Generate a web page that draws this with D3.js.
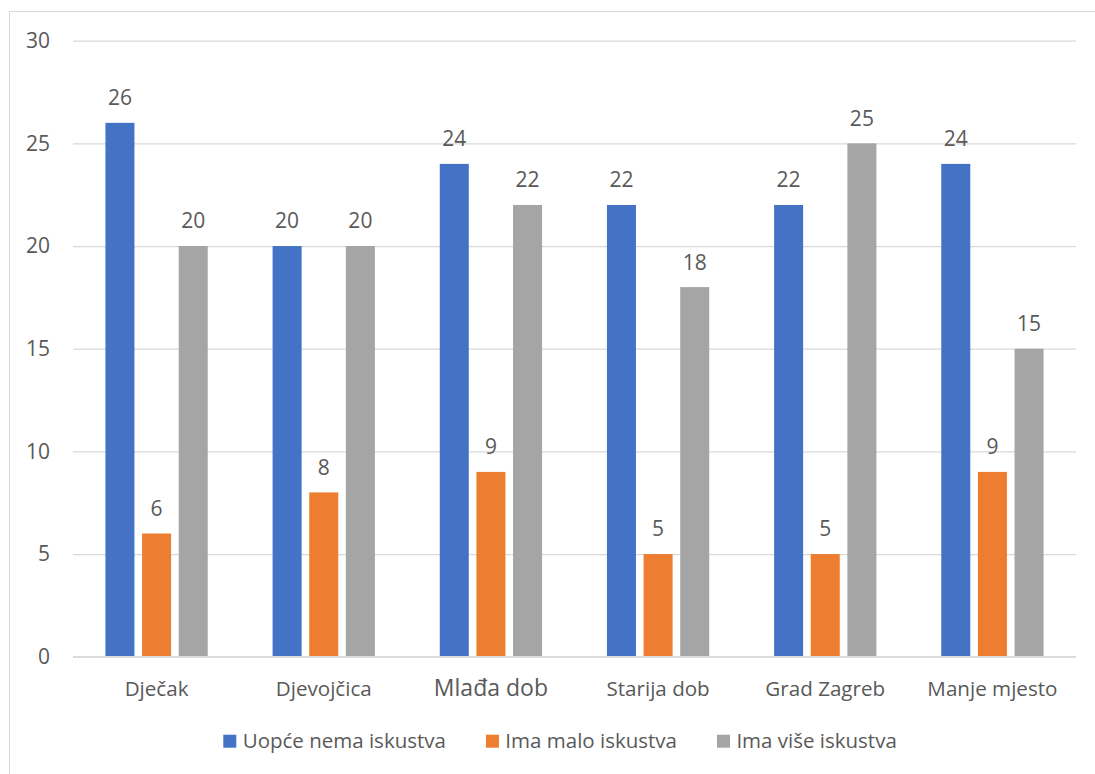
<!DOCTYPE html>
<html>
<head>
<meta charset="utf-8">
<script src="https://cdn.jsdelivr.net/npm/d3@7"></script>
<style>
  html, body { margin: 0; padding: 0; background: #fff; }
  svg { display: block; }
  text { font-family: "Segoe UI", "Open Sans", "Noto Sans", sans-serif; fill: #595959; }
</style>
</head>
<body>
<svg id="chart" width="1095" height="774"></svg>
<script>
const categories = ["Dječak", "Djevojčica", "Mlađa dob", "Starija dob", "Grad Zagreb", "Manje mjesto"];
const seriesNames = ["Uopće nema iskustva", "Ima malo iskustva", "Ima više iskustva"];
const uopceNema = [26, 20, 24, 22, 22, 24];
const imaMalo = [6, 8, 9, 5, 5, 9];
const imaVise = [20, 20, 22, 18, 25, 15];
const yTicks = [0, 5, 10, 15, 20, 25, 30];
const colors = ["#4472C4", "#ED7D31", "#A5A5A5"];

const seriesValues = [uopceNema, imaMalo, imaVise];
const svg = d3.select("#chart");

// outer chart border
svg.append("rect")
  .attr("x", 9.5).attr("y", 11.5)
  .attr("width", 1200).attr("height", 900)
  .attr("fill", "none").attr("stroke", "#D9D9D9").attr("stroke-width", 1);

const plot = { left: 73, right: 1076, top: 40.7, bottom: 656.7 };

const x0 = d3.scaleBand().domain(categories).range([plot.left, plot.right]).padding(0);
const groupW = 102.3;
const off = (x0.bandwidth() - groupW) / 2;
const x1 = d3.scaleBand().domain(seriesNames).range([off, off + groupW]).paddingInner(0.208).paddingOuter(0);
const y = d3.scaleLinear().domain([0, 30]).range([plot.bottom, plot.top]);

// gridlines
const yAxis = d3.axisLeft(y).tickValues(yTicks).tickSize(-(plot.right - plot.left)).tickPadding(23);
const gy = svg.append("g").attr("transform", `translate(${plot.left},0)`).call(yAxis);
gy.select(".domain").remove();
gy.selectAll(".tick line").attr("stroke", "#D9D9D9").attr("stroke-width", 1.2);
gy.selectAll(".tick text")
  .attr("font-size", "21px")
  .attr("fill", "#595959")
  .style("font-family", '"Segoe UI", "Open Sans", sans-serif');

// bars
const groups = svg.append("g").selectAll("g")
  .data(categories)
  .join("g")
  .attr("transform", d => `translate(${x0(d)},0)`);

groups.selectAll("rect")
  .data((d, i) => seriesNames.map((s, j) => ({ s, j, v: seriesValues[j][i] })))
  .join("rect")
  .attr("x", d => x1(d.s))
  .attr("width", x1.bandwidth())
  .attr("y", d => y(d.v))
  .attr("height", d => y(0) - y(d.v))
  .attr("fill", d => colors[d.j]);

groups.selectAll("text.lbl")
  .data((d, i) => seriesNames.map((s, j) => ({ s, j, v: seriesValues[j][i] })))
  .join("text")
  .attr("class", "lbl")
  .attr("x", d => x1(d.s) + x1.bandwidth() / 2)
  .attr("y", d => y(d.v) - 17.6)
  .attr("text-anchor", "middle")
  .attr("font-size", "21px")
  .text(d => d.v);

// x axis line
svg.append("line")
  .attr("x1", plot.left).attr("x2", plot.right)
  .attr("y1", y(0)).attr("y2", y(0))
  .attr("stroke", "#D9D9D9").attr("stroke-width", 1.5);

// category labels
const xAxis = d3.axisBottom(x0).tickSize(0).tickPadding(0);
const gx = svg.append("g").attr("transform", `translate(0,${y(0)})`).call(xAxis);
gx.select(".domain").remove();
gx.selectAll(".tick text")
  .attr("y", 39.3).attr("dy", null)
  .attr("font-size", d => d === "Mlađa dob" ? "23px" : "20.6px")
  .attr("fill", "#595959")
  .style("font-family", '"Segoe UI", "Open Sans", sans-serif');

// legend
const legend = svg.append("g");
let lx = 223.3;
seriesNames.forEach((s, j) => {
  legend.append("rect").attr("x", lx).attr("y", 734.7).attr("width", 13).attr("height", 13).attr("fill", colors[j]);
  const t = legend.append("text").attr("x", lx + 19.4).attr("y", 748.3).attr("font-size", "20.5px").text(s);
  const w = t.node().getComputedTextLength();
  lx = lx + 19.4 + w + 40;
});
</script>
</body>
</html>
